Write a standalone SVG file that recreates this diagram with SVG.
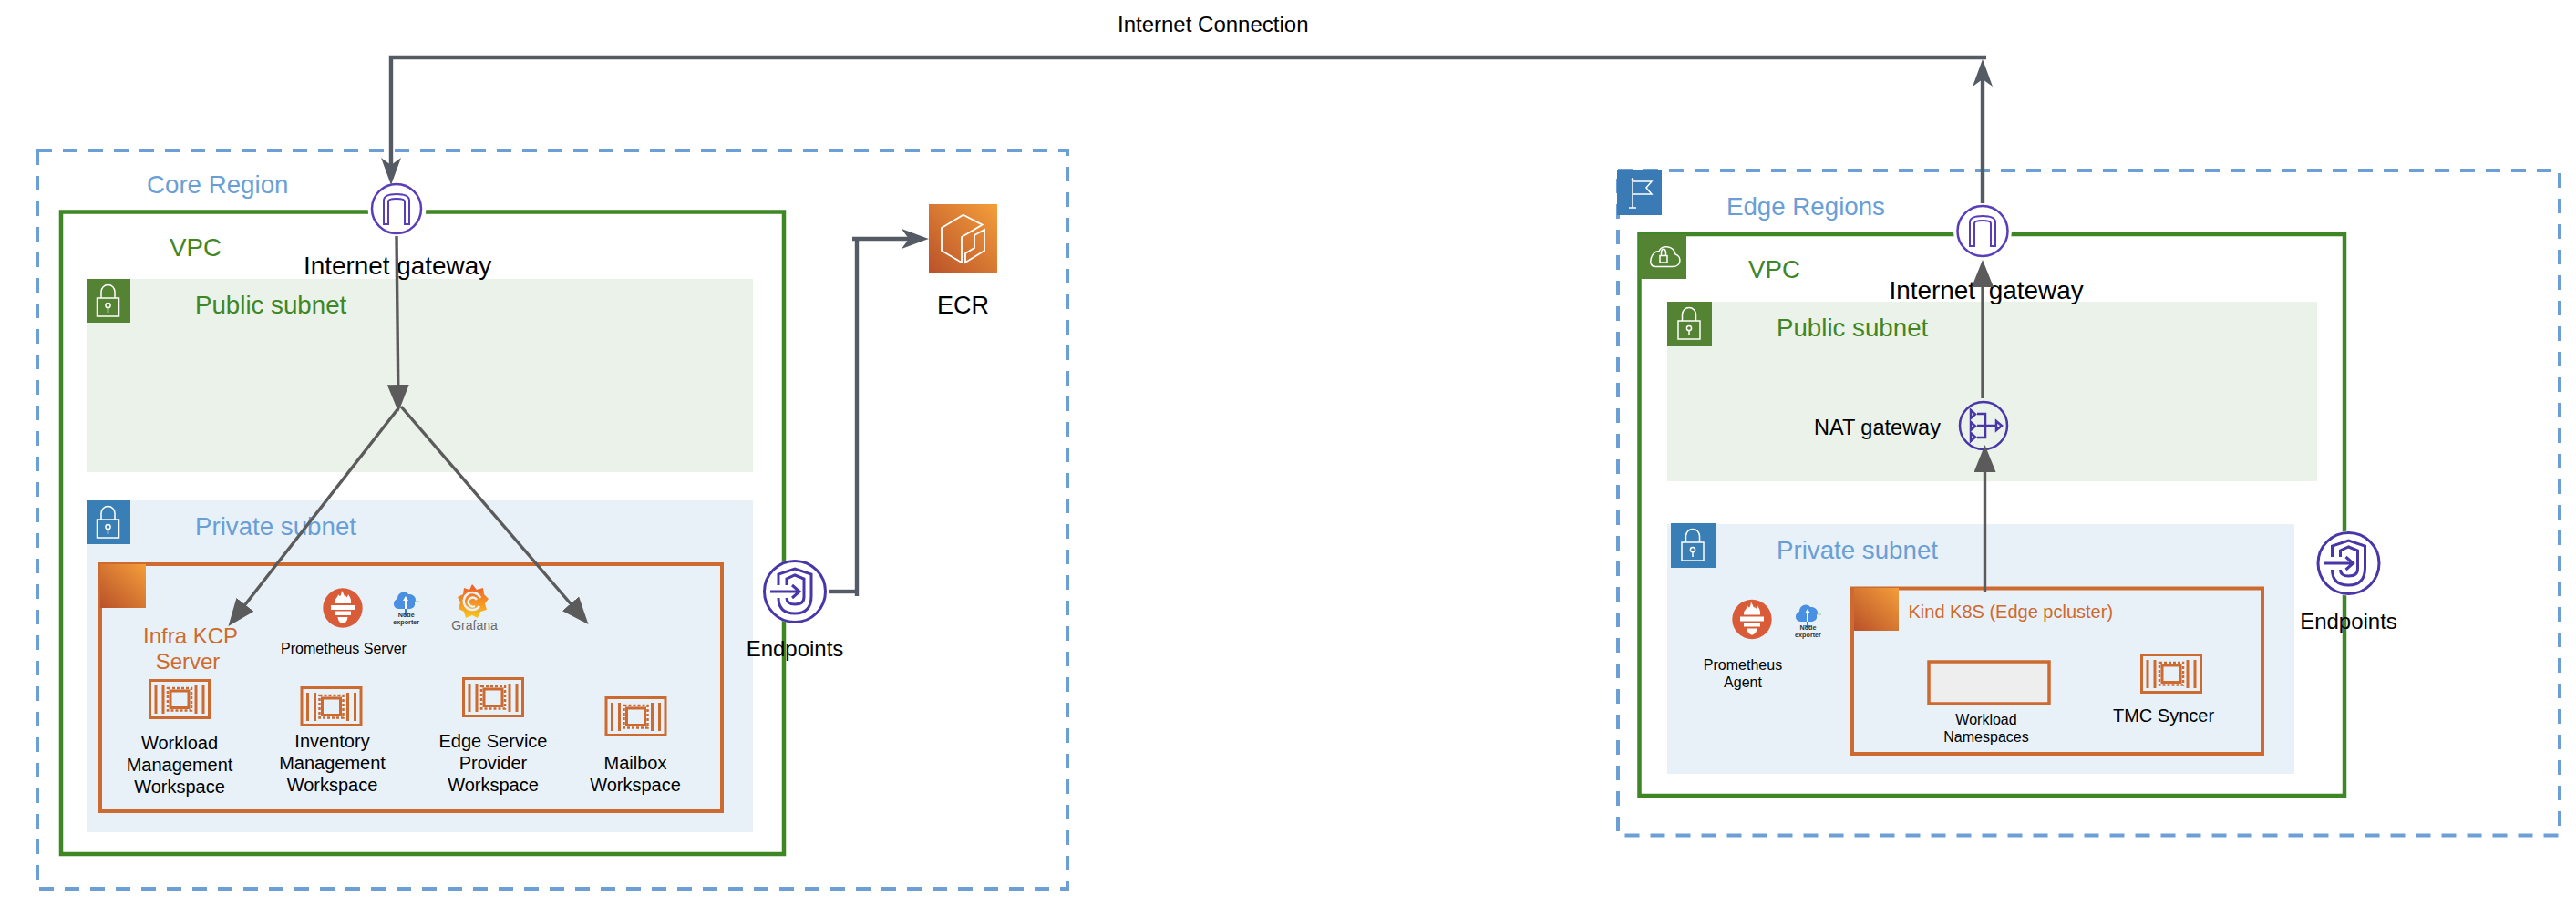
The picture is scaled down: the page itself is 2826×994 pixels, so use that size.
<svg xmlns="http://www.w3.org/2000/svg" width="2826" height="994" viewBox="0 0 2826 994">
<style>
text{font-family:"Liberation Sans",Arial,sans-serif;fill:#000}
.m{text-anchor:middle}
.t28{font-size:27.7px}
.blue{fill:#6a9fd6}
.green{fill:#3f8624}
.orange{fill:#cf6a2d}
.s24{font-size:24px}
.s20{font-size:20px}
.s16{font-size:16px}
.ne{font-size:7.2px;font-weight:bold;fill:#333;text-anchor:middle}
.region{fill:none;stroke:#6c9fd6;stroke-width:4;stroke-dasharray:16 12}
.vpc{fill:none;stroke:#3f8624;stroke-width:4.5}
.pub{fill:#ebf2e9}
.priv{fill:#e9f1f8}
.box{fill:none;stroke:#cd6a2f;stroke-width:4}
.ic{fill:none;stroke:#fff;stroke-width:1.5}
.dk{fill:none;stroke:#545b64;stroke-width:4.4}
.gr{fill:none;stroke:#5b5b5b;stroke-width:3.4}
.igw{fill:#fff;stroke:#5a3dbb;stroke-width:2.5}
.v{fill:none;stroke:#4936a8;stroke-width:3}
</style>
<defs>
<linearGradient id="og" x1="0" y1="1" x2="1" y2="0"><stop offset="0" stop-color="#b9512a"/><stop offset="1" stop-color="#f49e3a"/></linearGradient>
<linearGradient id="gf" x1="0" y1="0" x2="0" y2="1"><stop offset="0" stop-color="#ee5a2b"/><stop offset="1" stop-color="#f9c51e"/></linearGradient>
<marker id="st" markerUnits="userSpaceOnUse" markerWidth="30" markerHeight="24" viewBox="0 0 30 24" refX="22" refY="12" orient="auto"><path d="M0 1 L30 12 L0 23 L8 12 Z" fill="#545b64"/></marker>
<marker id="bl" markerUnits="userSpaceOnUse" markerWidth="30" markerHeight="24" viewBox="0 0 30 24" refX="22" refY="12" orient="auto"><path d="M0 0 L30 12 L0 24 Z" fill="#5b5b5b"/></marker>
<g id="lock" class="ic"><rect x="11.5" y="21" width="24" height="20"/><path d="M16 21 V14 A7.5 7.5 0 0 1 31 14 V21"/><circle cx="23.5" cy="29" r="2.6"/><path d="M23.5 31.6 V37"/></g>
<g id="chip"><rect x="1.5" y="1.5" width="65" height="41" fill="none" stroke="#cd6a2f" stroke-width="3"/><path d="M8 7 V38 M16 7 V38 M52 7 V38 M60 7 V38" stroke="#cd6a2f" stroke-width="3" fill="none"/><rect x="24" y="13" width="20" height="18.500" fill="none" stroke="#cd6a2f" stroke-width="3"/><rect x="21" y="10" width="26" height="24.500" fill="none" stroke="#cd6a2f" stroke-width="2.500" stroke-dasharray="3 2"/></g>
<g id="shield" class="v"><path d="M-18 -7 V-19 L0 -25 L18 -19 V5 Q18 24 0 24 Q-18 24 -18 7"/><path d="M-9 -7 V-14 L0 -18 L10 -14 V6 Q10 14 0 14 Q-9 14 -9 7"/><path d="M-27 0 H5 M-3 -7 L5 0 L-3 7"/></g>
<g id="arch" fill="none" stroke="#5a3dbb" stroke-width="2"><path d="M-14 17 V-9 Q-14 -16 0 -16 Q14 -16 14 -9 V17 H9 V-8 Q9 -11 0 -11 Q-9 -11 -9 -8 V17 Z"/></g>
<g id="prom"><circle r="21.700" fill="#da5b38"/><path d="M-9 -5 C-10 -10 -5 -11 -5 -15 C-3 -12 -2 -12 -1 -19 C2 -14 2 -11 3 -14 C4 -11 5 -11 6 -15 C10 -9 9 -7 9 -5 Z M-13 -3 H13 V2 H-13 Z M-9 3.500 H9 V8 H-9 Z M-5.500 10 H5.500 C5 15 2 17 0 17 C-2 17 -5 15 -5.500 10 Z" fill="#fff"/></g>
<g id="cloud"><path d="M-9 12 C-15 12 -16 3 -10 1 C-10 -6 -2 -9 2 -4 C8 -5 12 1 9 5 C10 10 6 12 3 12 Z" fill="#4a90e2"/><path d="M-1 1 V17" stroke="#fff" stroke-width="2"/><path d="M-1 -2 L-4 3 H2 Z" fill="#fff"/><path d="M-1 12 V17" stroke="#2f7fe0" stroke-width="2"/><path d="M-5 16 H3 L-1 20 Z" fill="#2f7fe0"/><path d="M10 4 H14" stroke="#8fd18a" stroke-width="1"/></g>
</defs>

<g id="core-region"><rect class="region" x="41" y="165" width="1130" height="810"/><text class="t28 blue" x="161" y="212">Core Region</text></g>
<g id="core-vpc"><rect class="vpc" x="67" y="232.500" width="793" height="704.500"/><text class="t28 green" x="186" y="281">VPC</text></g>
<g id="core-public-subnet"><rect class="pub" x="95" y="306" width="731" height="212"/><rect x="95" y="306" width="48" height="48" fill="#548334"/><use href="#lock" x="95" y="306"/><text class="t28 green" x="214" y="344">Public subnet</text></g>
<g id="core-private-subnet"><rect class="priv" x="95" y="549" width="731" height="364"/><rect x="95" y="549" width="48" height="48" fill="#3a7eb6"/><use href="#lock" x="95" y="549"/><text class="t28 blue" x="214" y="587">Private subnet</text></g>
<g id="infra-kcp-server"><rect class="box" x="110" y="619" width="682" height="271"/><rect x="110" y="619" width="50" height="48" fill="url(#og)"/><text class="s24 orange m" x="209" y="706">Infra KCP</text><text class="s24 orange m" x="206" y="734">Server</text></g>
<g id="prometheus-server"><use href="#prom" x="376" y="667"/><text class="s16 m" x="377" y="717">Prometheus Server</text></g>
<g id="node-exporter-core"><use href="#cloud" x="446" y="656"/><text class="ne" x="445.700" y="677">Node</text><text class="ne" x="445.700" y="685">exporter</text></g>
<g id="grafana"><path d="M518 641 L523 647 L530 645 L531 652 L536 657 L532 662 L534 669 L527 671 L524 678 L518 675 L511 678 L509 671 L503 668 L505 661 L502 655 L508 652 L509 645 L515 647 Z" fill="url(#gf)"/><path d="M526 665 A9.500 9.500 0 1 1 527 656 M523 658 A5 5 0 1 0 521 665" fill="none" stroke="#e9f1f8" stroke-width="2.500"/><text x="520.500" y="690.700" font-size="14" class="m" style="fill:#6b6b6b">Grafana</text></g>
<g id="workload-management"><use href="#chip" x="163" y="745"/><text class="s20 m" x="197" y="822">Workload</text><text class="s20 m" x="197" y="846">Management</text><text class="s20 m" x="197" y="870">Workspace</text></g>
<g id="inventory-management"><use href="#chip" x="329.500" y="753"/><text class="s20 m" x="364.500" y="820">Inventory</text><text class="s20 m" x="364.500" y="844">Management</text><text class="s20 m" x="364.500" y="868">Workspace</text></g>
<g id="edge-service-provider"><use href="#chip" x="507" y="743"/><text class="s20 m" x="541" y="820">Edge Service</text><text class="s20 m" x="541" y="844">Provider</text><text class="s20 m" x="541" y="868">Workspace</text></g>
<g id="mailbox"><use href="#chip" x="663.500" y="764"/><text class="s20 m" x="697" y="844">Mailbox</text><text class="s20 m" x="697" y="868">Workspace</text></g>
<g id="core-igw"><circle cx="435.500" cy="229" r="32" fill="#fff"/><circle class="igw" cx="435" cy="229" r="27"/><use href="#arch" x="435" y="229"/><text class="s24 m" style="font-size:27.900px" x="436" y="301">Internet gateway</text></g>
<g id="core-endpoints"><circle cx="872" cy="649" r="35" fill="#fff"/><circle cx="872" cy="649" r="33.500" fill="#fff" stroke="#4936a8" stroke-width="3"/><use href="#shield" x="872" y="649"/><text class="s24 m" x="872" y="720">Endpoints</text></g>
<g id="ecr"><rect x="1019" y="224" width="75" height="76" fill="url(#og)"/><path d="M1055 288 L1033 275 V250 L1056.700 235.800 L1077.700 246.600 L1055 260 V288 M1080 252 V275 L1059 288 V278 L1069 272 V258 Z" fill="none" stroke="#fff" stroke-width="1.800"/><text class="m" font-size="27" x="1056.500" y="344">ECR</text></g>

<g id="edge-region"><rect class="region" x="1775" y="187" width="1033" height="729.500"/><rect x="1774" y="187" width="49" height="49" fill="#3a7ab5"/><path class="ic" d="M1791 195 V228 M1787 228 H1795 M1791 199 H1812 L1806 206 L1812 213 H1791"/><circle cx="1791" cy="197" r="1.500" fill="#fff"/><text class="t28 blue" x="1894" y="236">Edge Regions</text></g>
<g id="edge-vpc"><rect class="vpc" x="1798.500" y="257" width="773.500" height="616"/><rect x="1798" y="257" width="52" height="49" fill="#548334"/><path class="ic" d="M1816 292.500 H1835 C1845 292.500 1845 281 1838 279 C1836 269 1822 268 1820 276 C1812 274 1806 292.500 1816 292.500 Z M1821 288 V280.500 H1829 V288 Z M1822.500 280.500 V277 C1823 272 1827 272 1827.500 277 V280.500"/><text class="t28 green" x="1918" y="305">VPC</text></g>
<g id="edge-public-subnet"><rect class="pub" x="1829" y="331" width="713" height="197"/><rect x="1829" y="331" width="49" height="49" fill="#548334"/><use href="#lock" x="1829.500" y="331"/><text class="t28 green" x="1949" y="369">Public subnet</text></g>
<g id="edge-private-subnet"><rect class="priv" x="1829" y="575" width="688" height="274"/><rect x="1833" y="574" width="49" height="49" fill="#3a7eb6"/><use href="#lock" x="1833.500" y="574"/><text class="t28 blue" x="1949" y="613">Private subnet</text></g>
<g id="nat-gateway"><circle cx="2176" cy="467" r="26" fill="none" stroke="#4936a8" stroke-width="2.500"/><path class="v" style="stroke-width:2.500" d="M2169 454 H2178 V480 H2169 M2169 467 H2190 M2162 450 L2167 454.500 L2162 459 Z M2162 463 L2167 467.500 L2162 472 Z M2162 475 L2167 479.500 L2162 484 Z M2190 462 L2196 467 L2190 472 Z"/><text class="s24" x="1990" y="477" style="font-size:23.500px">NAT gateway</text></g>
<g id="edge-igw"><circle cx="2175" cy="253.500" r="32" fill="#fff"/><circle class="igw" cx="2175" cy="253.500" r="27.500"/><use href="#arch" x="2175" y="253"/><text style="font-size:27.900px;word-spacing:7px" x="2072.500" y="328">Internet gateway</text></g>
<g id="kind-k8s"><rect class="box" x="2032" y="645.500" width="450" height="181.500"/><rect x="2034" y="645" width="49" height="47" fill="url(#og)"/><text class="s20 orange" x="2093.500" y="678">Kind K8S (Edge pcluster)</text></g>
<g id="workload-namespaces"><rect x="2116" y="726" width="132" height="46" fill="#eee" stroke="#cd6a2f" stroke-width="3.500"/><text class="s16 m" x="2179" y="795">Workload</text><text class="s16 m" x="2179" y="814">Namespaces</text></g>
<g id="tmc-syncer"><use href="#chip" x="2348" y="717"/><text class="s20 m" x="2373.500" y="792">TMC Syncer</text></g>
<g id="prometheus-agent"><use href="#prom" x="1922" y="679.500"/><text class="s16 m" x="1912" y="735">Prometheus</text><text class="s16 m" x="1912" y="754">Agent</text></g>
<g id="node-exporter-edge"><use href="#cloud" x="1984" y="670"/><text class="ne" x="1983.500" y="690.700">Node</text><text class="ne" x="1983.500" y="699">exporter</text></g>
<g id="edge-endpoints"><circle cx="2576.500" cy="618" r="35.500" fill="#fff"/><circle cx="2576.500" cy="618" r="33.500" fill="#fff" stroke="#4936a8" stroke-width="3"/><use href="#shield" x="2576.500" y="618"/><text class="s24 m" x="2576.500" y="690">Endpoints</text></g>

<g id="internet-connection-label"><text class="s24" x="1226" y="35">Internet Connection</text></g>

<g id="connectors">
<path class="dk" d="M2179 63 H429 V195" marker-end="url(#st)"/>
<path class="dk" d="M2175 223 V73" marker-end="url(#st)"/>
<path class="dk" d="M909 649 H940"/>
<path class="dk" d="M940 654 V262"/>
<path class="dk" d="M935 262 H1011" marker-end="url(#st)"/>
<path class="gr" d="M435 259 L437 444" marker-end="url(#bl)"/>
<path class="gr" d="M437 448 L255.400 680.700" marker-end="url(#bl)"/>
<path class="gr" d="M440 446 L640.300 679" marker-end="url(#bl)"/>
<path class="gr" d="M2175 437 V293" marker-end="url(#bl)"/>
<path class="gr" d="M2177.500 649 V496" marker-end="url(#bl)"/>
</g>
</svg>
